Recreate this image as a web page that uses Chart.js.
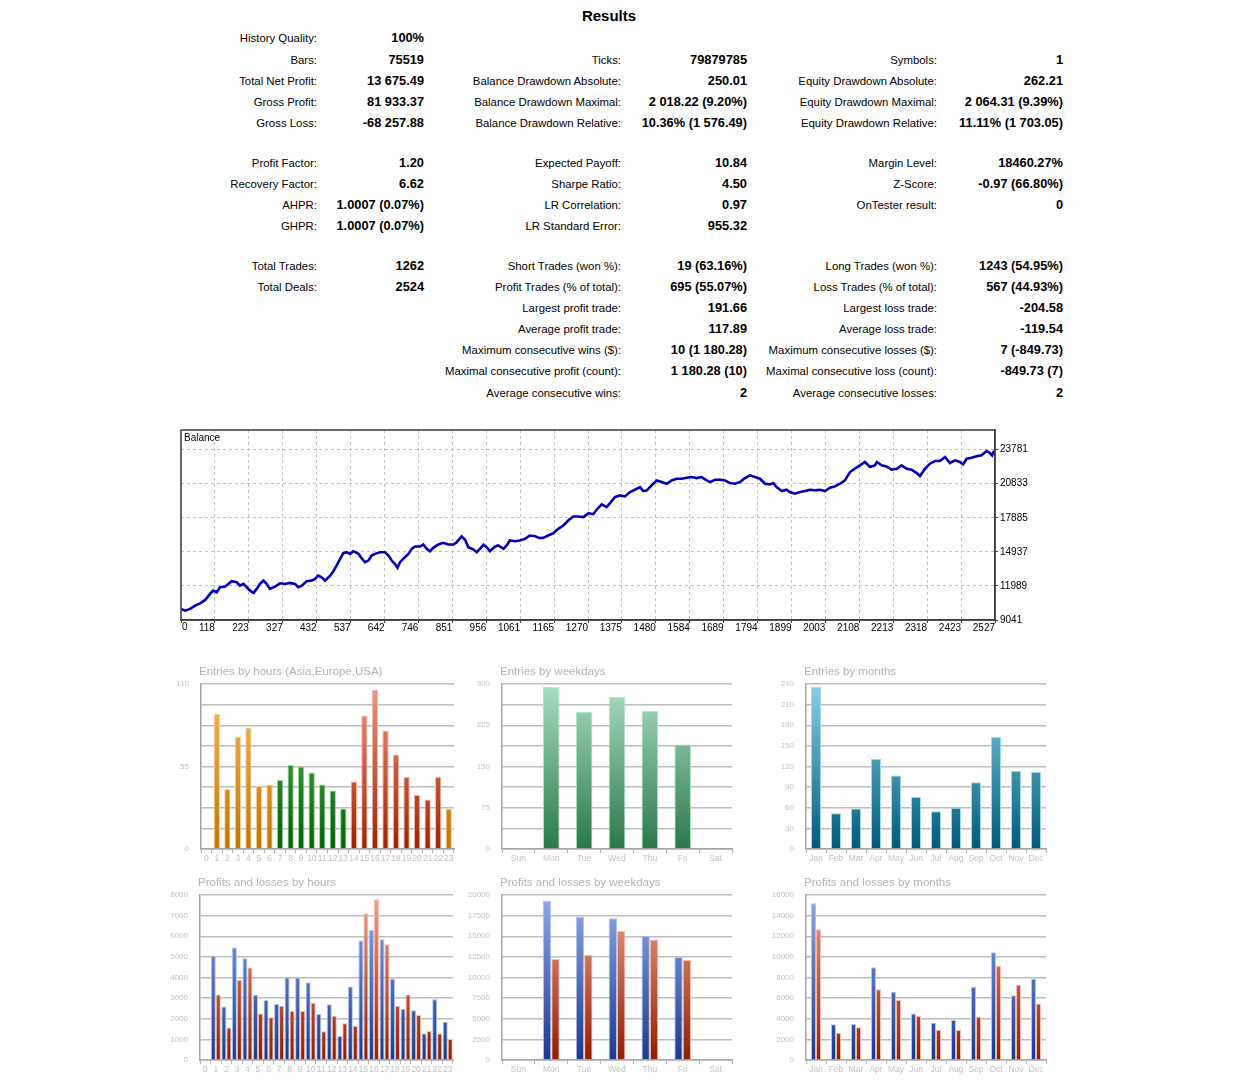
<!DOCTYPE html>
<html>
<head>
<meta charset="utf-8">
<title>Results</title>
<script src="https://cdn.jsdelivr.net/npm/chart.js@4.4.1/dist/chart.umd.min.js"></script>
<style>
  body { margin: 0; background: #fff; width: 1236px; height: 1080px; position: relative; overflow: hidden;
         font-family: "Liberation Sans", Arial, sans-serif; }
  #title { position: absolute; left: 0; top: 7px; width: 1218px; text-align: center;
           font-size: 15px; font-weight: bold; line-height: 18px; }
  #report div { position: absolute; left: 0; text-align: right; white-space: nowrap; line-height: 16px; }
  #report .lab { font-size: 11.4px; }
  #report .val { font-size: 12.8px; font-weight: bold; }
  canvas { position: absolute; }
</style>
</head>
<body>
<div id="title">Results</div>
<div id="report"></div>
<canvas id="balance"></canvas>
<canvas id="entHours"></canvas>
<canvas id="entWeek"></canvas>
<canvas id="entMonths"></canvas>
<canvas id="plHours"></canvas>
<canvas id="plWeek"></canvas>
<canvas id="plMonths"></canvas>
<script>
// report table text
var reportRows = [
  ['History Quality:', '100%', '', '', '', ''],
  ['Bars:', '75519', 'Ticks:', '79879785', 'Symbols:', '1'],
  ['Total Net Profit:', '13 675.49', 'Balance Drawdown Absolute:', '250.01', 'Equity Drawdown Absolute:', '262.21'],
  ['Gross Profit:', '81 933.37', 'Balance Drawdown Maximal:', '2 018.22 (9.20%)', 'Equity Drawdown Maximal:', '2 064.31 (9.39%)'],
  ['Gross Loss:', '-68 257.88', 'Balance Drawdown Relative:', '10.36% (1 576.49)', 'Equity Drawdown Relative:', '11.11% (1 703.05)'],
  ['Profit Factor:', '1.20', 'Expected Payoff:', '10.84', 'Margin Level:', '18460.27%'],
  ['Recovery Factor:', '6.62', 'Sharpe Ratio:', '4.50', 'Z-Score:', '-0.97 (66.80%)'],
  ['AHPR:', '1.0007 (0.07%)', 'LR Correlation:', '0.97', 'OnTester result:', '0'],
  ['GHPR:', '1.0007 (0.07%)', 'LR Standard Error:', '955.32', '', ''],
  ['Total Trades:', '1262', 'Short Trades (won %):', '19 (63.16%)', 'Long Trades (won %):', '1243 (54.95%)'],
  ['Total Deals:', '2524', 'Profit Trades (% of total):', '695 (55.07%)', 'Loss Trades (% of total):', '567 (44.93%)'],
  ['', '', 'Largest profit trade:', '191.66', 'Largest loss trade:', '-204.58'],
  ['', '', 'Average profit trade:', '117.89', 'Average loss trade:', '-119.54'],
  ['', '', 'Maximum consecutive wins ($):', '10 (1 180.28)', 'Maximum consecutive losses ($):', '7 (-849.73)'],
  ['', '', 'Maximal consecutive profit (count):', '1 180.28 (10)', 'Maximal consecutive loss (count):', '-849.73 (7)'],
  ['', '', 'Average consecutive wins:', '2', 'Average consecutive losses:', '2']
];
var rowY = [38, 60, 81, 102, 123, 163, 184, 205, 226, 266, 287, 308, 329, 350, 371, 393];
var colRight = [317, 424, 621, 747, 937, 1063];

// balance curve (trade number -> balance)
var balanceTrades = [
  0,13,28,44,59,75,90,100,111,121,
  137,147,157,173,183,194,204,214,225,235,
  245,256,266,276,292,307,323,338,354,364,
  375,390,406,416,426,437,447,463,473,483,
  494,504,514,525,535,551,561,571,582,592,
  602,618,633,644,654,664,672,680,695,706,
  716,726,742,752,763,773,783,799,814,830,
  846,856,871,882,892,908,918,928,939,949,
  959,975,985,1001,1011,1021,1037,1052,1068,1083,
  1099,1114,1125,1140,1156,1171,1187,1202,1218,1233,
  1249,1265,1280,1290,1306,1321,1332,1347,1363,1378,
  1394,1409,1425,1435,1446,1461,1477,1492,1508,1523,
  1539,1554,1570,1585,1601,1616,1632,1642,1658,1673,
  1689,1704,1720,1735,1751,1766,1782,1797,1813,1828,
  1839,1849,1865,1880,1890,1906,1922,1937,1953,1968,
  1984,1999,2015,2030,2046,2061,2077,2092,2108,2123,
  2139,2154,2160,2175,2190,2206,2222,2237,2253,2268,
  2284,2294,2310,2325,2341,2356,2372,2387,2403,2418,
  2428,2439,2454,2470,2485,2501,2511,2518,2524
];
var balanceValues = [
  10000,9850,10000,10284,10486,10775,11295,11584,11440,11873,
  11931,12162,12393,12307,12018,12162,11873,11584,11382,11729,
  12162,12451,12162,11729,11931,12220,12162,12249,12162,11873,
  12018,12393,12451,12596,12885,12740,12451,12885,13260,13752,
  14330,14821,14908,14763,14994,14763,14387,14041,14185,14619,
  14763,14908,14908,14619,14185,13896,13549,14041,14474,14763,
  15197,15399,15399,15572,15197,14994,15283,15572,15717,15572,
  15572,15775,16266,15977,15341,15139,14908,15197,15543,15341,
  14994,15399,15486,15197,15486,15919,15861,15919,16064,16353,
  16295,16122,16151,16353,16555,16931,17220,17653,17999,17999,
  17942,18289,18200,18578,19040,18809,19156,19676,19821,19734,
  20110,20312,20543,20198,20255,20688,21121,20977,20833,21121,
  21266,21266,21352,21410,21324,21410,21121,20977,21179,21179,
  21121,20890,20833,20977,21324,21555,21410,21266,20833,20775,
  20890,20543,20198,20312,20110,19965,20110,20198,20312,20255,
  20312,20198,20485,20601,20833,21121,21844,22133,22422,22711,
  22277,22422,22711,22422,22335,22046,22133,22422,22133,22046,
  21757,21497,22133,22566,22797,22797,23144,22624,22855,22711,
  22508,22999,23086,23202,23288,23664,23490,23288,23675
];
var balanceXLabels = ['0','118','223','327','432','537','642','746','851','956','1061','1165','1270',
                      '1375','1480','1584','1689','1794','1899','2003','2108','2213','2318','2423','2527'];
var balanceXMax = 2527;
var balanceYTicks = [9041, 11989, 14937, 17885, 20833, 23781];
var balanceYMax = 25482;

// distributions
var hourLabels = ['0','1','2','3','4','5','6','7','8','9','10','11','12','13','14','15','16','17','18','19','20','21','22','23'];
var hourSession = ['Asia','Asia','Asia','Asia','Asia','Asia','Asia','Europe','Europe','Europe','Europe','Europe','Europe','Europe',
                   'USA','USA','USA','USA','USA','USA','USA','USA','USA','Asia'];
var entriesByHour = [0,90,40,75,81,42,43,46,56,55,51,43,39,27,45,89,106,79,63,48,36,33,48,27];
var weekdayLabels = ['Sun','Mon','Tue','Wed','Thu','Fri','Sat'];
var entriesByWeekday = [0,295,249,277,251,190,0];
var monthLabels = ['Jan','Feb','Mar','Apr','May','Jun','Jul','Aug','Sep','Oct','Nov','Dec'];
var entriesByMonth = [236,52,59,131,107,76,55,60,97,163,114,112];
var profitByHour = [0,5060,2590,5450,4930,3150,2910,2710,4010,3990,3770,2230,2700,1160,3560,5790,6300,5850,3940,2490,2410,1280,2940,1860];
var lossByHour   = [0,3180,1570,3880,4480,2260,2070,2630,2380,2380,2780,1390,2150,1780,1660,7110,7790,5610,2620,3180,2180,1410,1290,1020];
var profitByWeekday = [0,19310,17370,17170,15070,12480,0];
var lossByWeekday   = [0,12240,12730,15630,14620,12120,0];
var profitByMonth = [15190,3460,3490,8990,6630,4520,3620,3880,7110,10440,6270,7890];
var lossByMonth   = [12670,2650,3170,6850,5820,4270,2910,2910,4200,9110,7270,5490];

Chart.defaults.font.family = '"Liberation Sans", Arial, sans-serif';
Chart.defaults.animation = false;

// ---- report table
var rep = document.getElementById('report');
reportRows.forEach(function(row, r) {
  row.forEach(function(txt, c) {
    if (!txt) return;
    var d = document.createElement('div');
    d.className = c % 2 === 0 ? 'lab' : 'val';
    d.style.top = (rowY[r] - 8) + 'px';
    d.style.width = colRight[c] + 'px';
    d.textContent = txt;
    rep.appendChild(d);
  });
});

// ---- plugins
// frame round the balance plot, its caption, and the first x label drawn inside the frame
var framePlugin = {
  id: 'frame',
  afterDraw: function(chart) {
    var ctx = chart.ctx, a = chart.chartArea;
    ctx.save();
    ctx.strokeStyle = '#3c3c3c';
    ctx.lineWidth = 1.5;
    ctx.strokeRect(a.left, a.top, a.right - a.left, a.bottom - a.top);
    ctx.fillStyle = '#000';
    ctx.font = '10px "Liberation Sans", Arial, sans-serif';
    ctx.textBaseline = 'middle';
    ctx.fillText('Balance', a.left + 3, a.top + 8);
    ctx.textBaseline = 'top';
    ctx.fillText(balanceXLabels[0], a.left + 1, a.bottom + 2);
    ctx.restore();
  }
};

var cornerTitle = {
  id: 'cornerTitle',
  afterDraw: function(chart, args, opts) {
    var ctx = chart.ctx, a = chart.chartArea;
    ctx.save();
    ctx.font = '11.5px "Liberation Sans", Arial, sans-serif';
    ctx.fillStyle = '#b4b4b4';
    ctx.textBaseline = 'middle';
    ctx.fillText(opts.text, a.left - 2, a.top - 12);
    ctx.restore();
  }
};

function placeCanvas(el, left, top, w, h) {
  el.width = w; el.height = h;
  el.style.left = left + 'px'; el.style.top = top + 'px';
  el.style.width = w + 'px'; el.style.height = h + 'px';
}

// ---- balance chart (y-axis label padding puts the plot top 8px into the canvas)
var balEl = document.getElementById('balance');
placeCanvas(balEl, 150, 422, 890, 218);
new Chart(balEl, {
  type: 'line',
  data: {
    datasets: [{
      data: balanceTrades.map(function(t, i) { return {x: t, y: balanceValues[i]}; }),
      borderColor: '#0000b4',
      borderWidth: 2.6,
      pointRadius: 0,
      tension: 0
    }]
  },
  options: {
    responsive: false,
    layout: {padding: {left: 31, top: 0, right: 0, bottom: 0}},
    plugins: {legend: {display: false}, tooltip: {enabled: false}},
    scales: {
      x: {
        type: 'linear', min: 0, max: balanceXMax,
        afterBuildTicks: function(s) {
          s.ticks = balanceXLabels.map(function(l, i) { return {value: i * balanceXMax / (balanceXLabels.length - 1)}; });
        },
        afterFit: function(s) { s.height = 20; },
        ticks: {
          callback: function(v, i) { return i === 0 ? '' : balanceXLabels[i]; },
          align: 'end', maxRotation: 0, minRotation: 0, autoSkip: false,
          color: '#000', font: {size: 10}, padding: -1
        },
        grid: {color: '#c4c4c4', lineWidth: 1, tickLength: 3, tickColor: '#3c3c3c'},
        border: {dash: [3, 3], color: '#3c3c3c', width: 1.5}
      },
      y: {
        position: 'right', min: balanceYTicks[0], max: balanceYMax,
        afterBuildTicks: function(s) {
          s.ticks = balanceYTicks.map(function(v) { return {value: v}; });
        },
        afterFit: function(s) { s.width = 45; },
        ticks: {color: '#000', font: {size: 10}, padding: 2,
                callback: function(v) { return String(v); }},
        grid: {color: '#c4c4c4', lineWidth: 1, tickLength: 3, tickColor: '#3c3c3c'},
        border: {dash: [3, 3], color: '#3c3c3c', width: 1.5}
      }
    }
  },
  plugins: [framePlugin]
});

// ---- bar charts
function vGrad(chart, top, bottom) {
  var a = chart.chartArea;
  if (!a) return bottom;
  var g = chart.ctx.createLinearGradient(0, a.top, 0, a.bottom);
  g.addColorStop(0, top);
  g.addColorStop(1, bottom);
  return g;
}

var palette = {
  Asia:   ['#f4bc62', '#c27600', '#f8d49a'],
  Europe: ['#62b862', '#006200', '#9ad69a'],
  USA:    ['#ee9a88', '#a22000', '#f6b8a8'],
  week:   ['#a8dec2', '#2a784a', '#b4e6cc'],
  month:  ['#8ad0e2', '#005a78', '#9adcee'],
  profit: ['#92aae6', '#1a3a8e', '#aec4f2'],
  loss:   ['#f0a48e', '#941c00', '#f8bcac']
};

function gradFill(key) {
  return function(c) { var p = palette[typeof key === 'function' ? key(c) : key]; return vGrad(c.chart, p[0], p[1]); };
}
function edge(key) {
  return function(c) { return palette[typeof key === 'function' ? key(c) : key][2]; };
}

var padL = 46, padT = 26, padR = 6, axisB = 22;

function barChart(id, area, labels, datasets, title, yMax, yStep, labelEvery, catPct, barPct) {
  var el = document.getElementById(id);
  placeCanvas(el, area[0] - padL, area[1] - padT, area[2] - area[0] + padL + padR, area[3] - area[1] + padT + axisB);
  new Chart(el, {
    type: 'bar',
    data: {labels: labels, datasets: datasets},
    options: {
      responsive: false,
      layout: {padding: {left: 0, top: padT, right: padR, bottom: 0}},
      datasets: {bar: {categoryPercentage: catPct, barPercentage: barPct, borderWidth: 1, borderSkipped: 'start'}},
      plugins: {legend: {display: false}, tooltip: {enabled: false}, cornerTitle: {text: title}},
      scales: {
        x: {
          offset: true,
          afterFit: function(s) { s.height = axisB; },
          ticks: {color: '#c4c4c4', font: {size: 8.5}, padding: 1, maxRotation: 0, autoSkip: false},
          grid: {offset: true, drawOnChartArea: false, tickLength: 4, color: '#b4b4b4'},
          border: {color: '#a4a4a4', width: 1.5}
        },
        y: {
          min: 0, max: yMax,
          afterFit: function(s) { s.width = padL; },
          ticks: {
            stepSize: yStep, color: '#c4c4c4', font: {size: 8}, padding: 12,
            callback: function(v) { return Math.abs(v % labelEvery) < 0.001 ? v : ''; }
          },
          grid: {color: '#bebebe', lineWidth: 1.5, drawTicks: false},
          border: {color: '#a4a4a4', width: 1.5}
        }
      }
    },
    plugins: [cornerTitle]
  });
}

function sessionOf(c) { return hourSession[c.dataIndex]; }

barChart('entHours', [201, 684, 454, 849], hourLabels,
  [{data: entriesByHour, backgroundColor: gradFill(sessionOf), borderColor: edge(sessionOf)}],
  'Entries by hours (Asia,Europe,USA)', 110, 13.75, 55, 1, 0.6);

barChart('entWeek', [502, 684, 732, 849], weekdayLabels,
  [{data: entriesByWeekday, backgroundColor: gradFill('week'), borderColor: edge('week')}],
  'Entries by weekdays', 300, 37.5, 75, 1, 0.51);

barChart('entMonths', [806, 684, 1046, 849], monthLabels,
  [{data: entriesByMonth, backgroundColor: gradFill('month'), borderColor: edge('month')}],
  'Entries by months', 240, 30, 30, 1, 0.5);

barChart('plHours', [200, 895, 453, 1060], hourLabels,
  [{data: profitByHour, backgroundColor: gradFill('profit'), borderColor: edge('profit')},
   {data: lossByHour, backgroundColor: gradFill('loss'), borderColor: edge('loss')}],
  'Profits and losses by hours', 8000, 1000, 1000, 0.95, 1);

barChart('plWeek', [502, 895, 732, 1060], weekdayLabels,
  [{data: profitByWeekday, backgroundColor: gradFill('profit'), borderColor: edge('profit')},
   {data: lossByWeekday, backgroundColor: gradFill('loss'), borderColor: edge('loss')}],
  'Profits and losses by weekdays', 20000, 2500, 2500, 0.51, 1);

barChart('plMonths', [806, 895, 1046, 1060], monthLabels,
  [{data: profitByMonth, backgroundColor: gradFill('profit'), borderColor: edge('profit')},
   {data: lossByMonth, backgroundColor: gradFill('loss'), borderColor: edge('loss')}],
  'Profits and losses by months', 16000, 2000, 2000, 0.5, 1);
</script>
</body>
</html>
